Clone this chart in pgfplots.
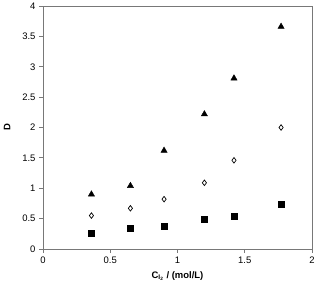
\documentclass[border=0pt]{standalone}
\usepackage{fontspec}
\setmainfont{Liberation Sans}
\usepackage{pgfplots}
\pgfplotsset{compat=1.18}
\definecolor{axgray}{RGB}{120,120,120}
\begin{document}
\begin{tikzpicture}[x=1bp,y=1bp]
\begin{axis}[
  scale only axis, width=269bp, height=243bp,
  at={(0,0)}, anchor=south west,
  xmin=0, xmax=2, ymin=0, ymax=4,
  xtick={0,0.5,1,1.5,2}, ytick={0,0.5,1,1.5,2,2.5,3,3.5,4},
  tick align=outside, major tick length=4bp,
  xtick pos=bottom, ytick pos=left,
  axis line style={axgray, line width=1pt},
  tick style={axgray, line width=0.9pt},
  tick label style={font=\fontsize{9.5}{11}\selectfont},
  /pgf/number format/assume math mode=true,
  xlabel={\textbf{C$_{\mathbf{I_2}}$ / (mol/L)}},
  every axis x label/.style={font=\fontsize{9.5}{11}\selectfont, at={(axis description cs:0.5,0)}, anchor=north, yshift=-19bp},
  ylabel={\textbf{D}},
  every axis y label/.style={font=\fontsize{9.5}{11}\selectfont, at={(axis description cs:0,0.5)}, anchor=center, xshift=-36bp, rotate=90},
  clip=false,
]
% distribution ratio, highest series
\addplot[only marks, mark=triangle*, mark size=3.6pt, black] coordinates {
  (0.36,0.90) (0.65,1.04) (0.90,1.62) (1.20,2.22) (1.42,2.81) (1.77,3.66)};
% middle series
\addplot[only marks, mark=diamond, mark size=2.8pt, black, mark options={line width=0.7pt, fill=white}] coordinates {
  (0.36,0.55) (0.65,0.67) (0.90,0.82) (1.20,1.09) (1.42,1.46) (1.77,2.00)};
% lowest series
\addplot[only marks, mark=square*, mark size=3pt, black] coordinates {
  (0.36,0.26) (0.65,0.335) (0.90,0.38) (1.20,0.49) (1.42,0.54) (1.77,0.74)};
\end{axis}
\pgfresetboundingbox
\path[use as bounding box] (-43,-32) rectangle (275,249);
\end{tikzpicture}
\end{document}
